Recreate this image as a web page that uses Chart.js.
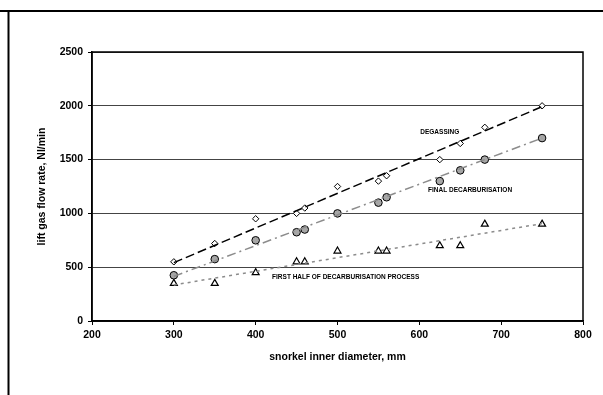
<!DOCTYPE html>
<html lang="en">
<head>
  <meta charset="UTF-8">
  <title>Lift gas flow rate vs snorkel diameter</title>
  <script src="https://cdn.jsdelivr.net/npm/chart.js"></script>
  <style>
    html, body { margin: 0; padding: 0; background: #fff; overflow: hidden; }
    canvas { display: block; }
  </style>
</head>
<body>
  <canvas id="chart" width="603" height="395"></canvas>

  <script>
    // snorkel inner diameter, mm
    const diameters = [300, 350, 400, 450, 460, 500, 550, 560, 625, 650, 680, 750];

    // lift gas flow rate, Nl/min
    const degassing = [550, 720, 950, 1000, 1050, 1250, 1300, 1350, 1500, 1650, 1800, 2000];
    const finalDecarb = [425, 575, 750, 825, 850, 1000, 1100, 1150, 1300, 1400, 1500, 1700];
    const firstHalf = [350, 350, 450, 550, 550, 650, 650, 650, 700, 700, 900, 900];

    // trend line end points [x, y]
    const degassingTrend = [[300, 542], [750, 1992]];
    const finalDecarbTrend = [[300, 415], [750, 1700]];
    const firstHalfTrend = [[300, 335], [750, 905]];

    const seriesNames = ["DEGASSING", "FINAL DECARBURISATION", "FIRST HALF OF DECARBURISATION PROCESS"];

    const xTicks = [200, 300, 400, 500, 600, 700, 800];
    const yTicks = [0, 500, 1000, 1500, 2000, 2500];

    const pts = ys => diameters.map((x, i) => ({ x: x, y: ys[i] }));
    const line = p => p.map(d => ({ x: d[0], y: d[1] }));
    const font = (size) => ({ family: "'Liberation Sans', Arial, sans-serif", size: size, weight: "bold" });

    // outer frame + plot border + series labels
    const decor = {
      id: "decor",
      beforeDraw(chart) {
        const c = chart.ctx;
        c.save();
        c.fillStyle = "#fff";
        c.fillRect(0, 0, chart.width, chart.height);
        c.strokeStyle = "#000";
        c.lineWidth = 2;
        c.beginPath();
        c.moveTo(0, 11); c.lineTo(chart.width, 11);
        c.moveTo(8.5, 11); c.lineTo(8.5, chart.height);
        c.stroke();
        c.restore();
      },
      afterDatasetsDraw(chart, args, opts) {
        const c = chart.ctx, a = chart.chartArea;
        const xs = chart.scales.x, ys = chart.scales.y;
        c.save();
        c.strokeStyle = "#000";
        c.lineWidth = 1.5;
        c.strokeRect(a.left, a.top, a.right - a.left, a.bottom - a.top);
        c.fillStyle = "#000";
        c.font = "bold 6.5px 'Liberation Sans', Arial, sans-serif";
        c.textAlign = "center";
        c.textBaseline = "middle";
        opts.labels.forEach(l => {
          c.fillText(l.text, xs.getPixelForValue(l.x), ys.getPixelForValue(l.y));
        });
        c.restore();
      }
    };

    new Chart(document.getElementById("chart"), {
      type: "scatter",
      data: {
        datasets: [
          {
            label: seriesNames[0] + " trend",
            data: line(degassingTrend),
            showLine: true,
            borderColor: "#000",
            borderWidth: 1.5,
            borderDash: [9, 4],
            pointRadius: 0
          },
          {
            label: seriesNames[1] + " trend",
            data: line(finalDecarbTrend),
            showLine: true,
            borderColor: "#8c8c8c",
            borderWidth: 1.5,
            borderDash: [9, 4, 2, 4],
            pointRadius: 0
          },
          {
            label: seriesNames[2] + " trend",
            data: line(firstHalfTrend),
            showLine: true,
            borderColor: "#8c8c8c",
            borderWidth: 1.5,
            borderDash: [3, 4],
            pointRadius: 0
          },
          {
            label: seriesNames[0],
            data: pts(degassing),
            pointStyle: "rectRot",
            pointRadius: 3.2,
            backgroundColor: "#fff",
            borderColor: "#000",
            borderWidth: 1
          },
          {
            label: seriesNames[1],
            data: pts(finalDecarb),
            pointStyle: "circle",
            pointRadius: 3.8,
            backgroundColor: "#a6a6a6",
            borderColor: "#000",
            borderWidth: 1
          },
          {
            label: seriesNames[2],
            data: pts(firstHalf),
            pointStyle: "triangle",
            pointRadius: 4,
            backgroundColor: "#fff",
            borderColor: "#000",
            borderWidth: 1.2
          }
        ]
      },
      options: {
        responsive: false,
        animation: false,
        layout: { padding: { left: 34, top: 52, right: 20, bottom: 32 } },
        plugins: {
          legend: { display: false },
          tooltip: { enabled: false },
          decor: {
            labels: [
              { text: seriesNames[0], x: 625, y: 1757 },
              { text: seriesNames[1], x: 662, y: 1217 },
              { text: seriesNames[2], x: 510, y: 409 }
            ]
          }
        },
        scales: {
          x: {
            type: "linear",
            min: 200,
            max: 800,
            afterBuildTicks: s => { s.ticks = xTicks.map(v => ({ value: v })); },
            afterFit: s => { s.height = 42; },
            grid: { drawOnChartArea: false, tickLength: 4, tickColor: "#000", lineWidth: 1 },
            border: { color: "#000", width: 1.5 },
            ticks: {
              color: "#000",
              padding: 4,
              autoSkip: false,
              maxRotation: 0,
              callback: v => String(v),
              font: font(10.5)
            },
            title: {
              display: true,
              text: "snorkel inner diameter, mm",
              color: "#000",
              padding: { top: 4, bottom: 0 },
              font: font(10.5)
            }
          },
          y: {
            type: "linear",
            min: 0,
            max: 2500,
            afterBuildTicks: s => { s.ticks = yTicks.map(v => ({ value: v })); },
            afterFit: s => { s.width = 58; },
            grid: { color: "#444", tickLength: 4, tickColor: "#000", lineWidth: 1 },
            border: { color: "#000", width: 1.5 },
            ticks: {
              color: "#000",
              padding: 5,
              autoSkip: false,
              callback: v => String(v),
              font: font(10.5)
            },
            title: {
              display: true,
              text: "lift gas flow rate, Nl/min",
              color: "#000",
              padding: { top: 2, bottom: 0 },
              font: font(10.5)
            }
          }
        }
      },
      plugins: [decor]
    });
  </script>
</body>
</html>
